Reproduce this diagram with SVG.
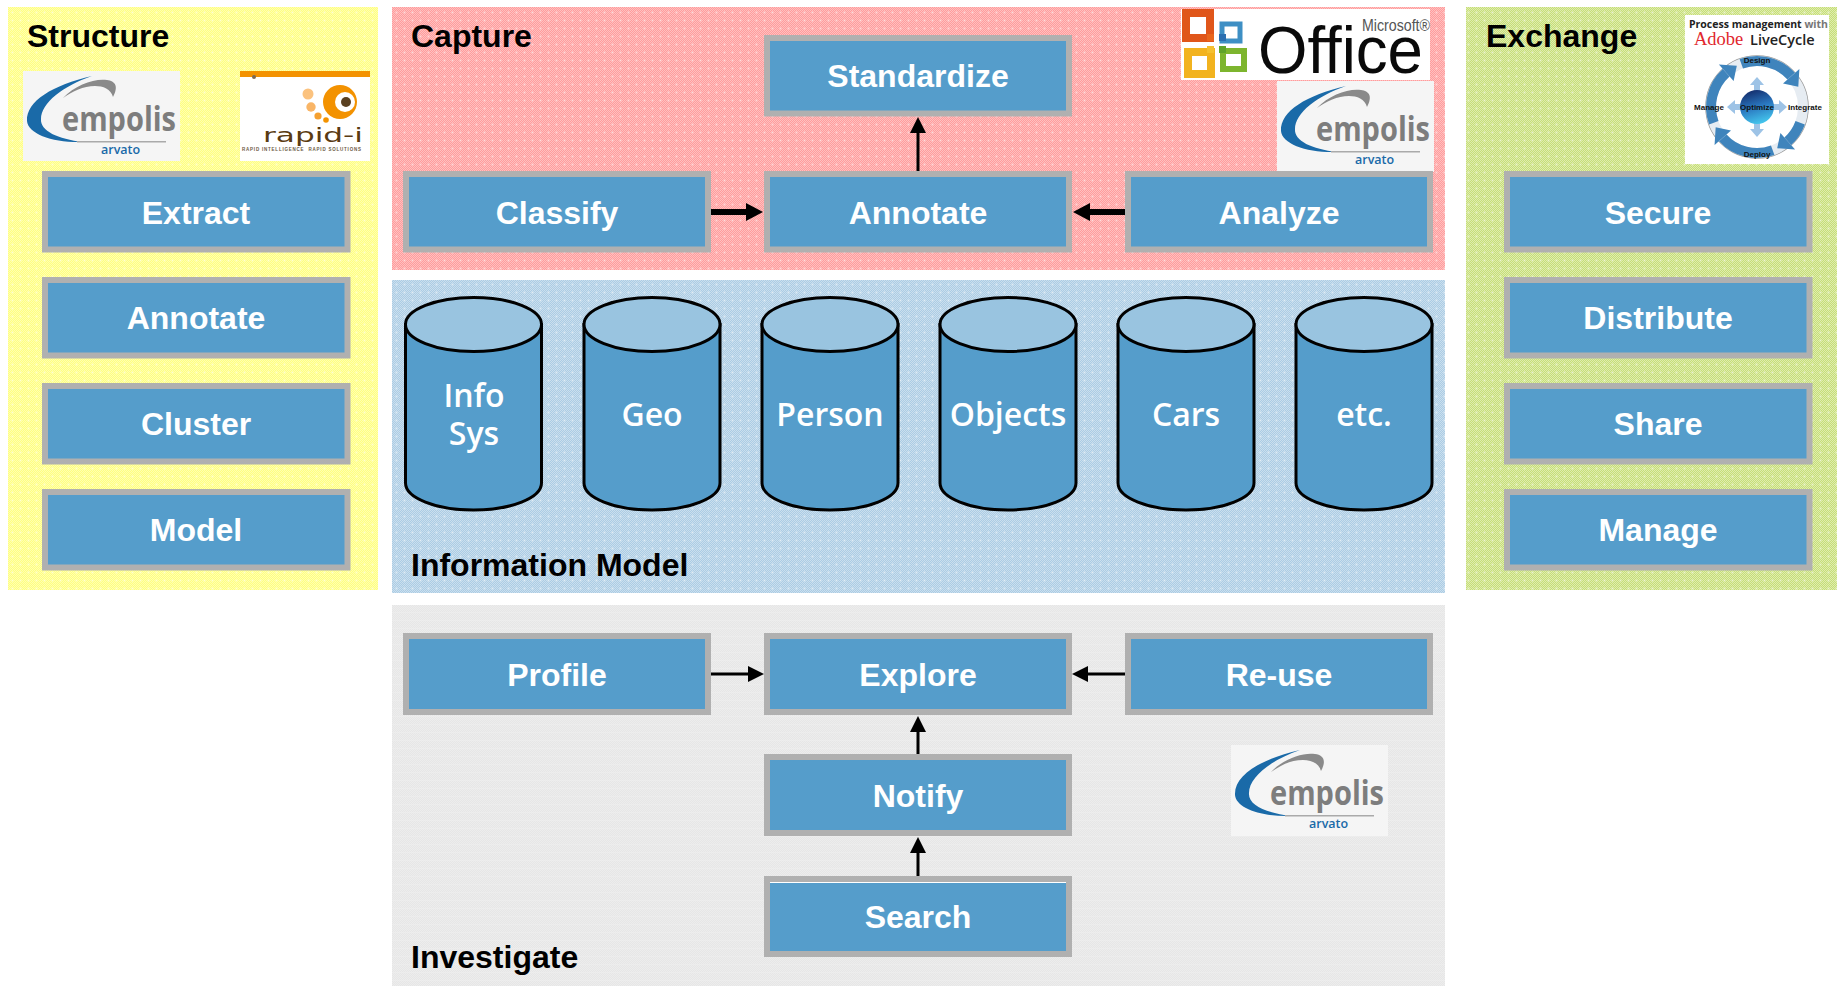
<svg xmlns="http://www.w3.org/2000/svg" width="1843" height="986" viewBox="0 0 1843 986">
<style>
.box{fill:#559DCB;stroke:#B0B0B0;stroke-width:6}
.lbl{font:bold 32px "Liberation Sans",Arial,sans-serif;fill:#fff;text-anchor:middle}
.ttl{font:bold 32px "Liberation Sans",Arial,sans-serif;fill:#000}
.cyl{fill:#559DCB;stroke:#000;stroke-width:3}
.cap{fill:#99C4E0;stroke:#000;stroke-width:3}
.clbl{font:600 32px "Open Sans",sans-serif;fill:#fff;text-anchor:middle}
.thin{stroke:#000;stroke-width:3;fill:none}
.thick{stroke:#000;stroke-width:6;fill:none}
.emp{font:700 34px "Open Sans",sans-serif;fill:#7d7d7d}
.arv{font:600 12.500px "Open Sans",sans-serif;fill:#1a6aa8}
.lc{font:bold 8px "Liberation Sans",Arial,sans-serif;fill:#111;text-anchor:middle}
.band{fill:none;stroke:#3F84BC;stroke-width:10}
</style>
<defs>
<pattern id="cY" width="2" height="2" patternUnits="userSpaceOnUse"><rect width="2" height="2" fill="#FFFF80"/><rect width="1" height="1" fill="#FFFFB0"/><rect x="1" y="1" width="1" height="1" fill="#FFFFB0"/></pattern>
<pattern id="cR" width="2" height="2" patternUnits="userSpaceOnUse"><rect width="2" height="2" fill="#FF9C9C"/><rect width="1" height="1" fill="#FFC0C0"/><rect x="1" y="1" width="1" height="1" fill="#FFC0C0"/></pattern>
<pattern id="cB" width="2" height="2" patternUnits="userSpaceOnUse"><rect width="2" height="2" fill="#ABCCE4"/><rect width="1" height="1" fill="#CBDFEE"/><rect x="1" y="1" width="1" height="1" fill="#CBDFEE"/></pattern>
<pattern id="cG" width="2" height="2" patternUnits="userSpaceOnUse"><rect width="2" height="2" fill="#C6DE78"/><rect width="1" height="1" fill="#DFEDAE"/><rect x="1" y="1" width="1" height="1" fill="#DFEDAE"/></pattern>
<pattern id="cK" width="2" height="2" patternUnits="userSpaceOnUse"><rect width="2" height="2" fill="#E6E6E6"/><rect width="1" height="1" fill="#EDEDED"/><rect x="1" y="1" width="1" height="1" fill="#EDEDED"/></pattern>
<pattern id="pY" width="8" height="8" patternUnits="userSpaceOnUse"><rect width="8" height="8" fill="url(#cY)"/><path d="M3 4.500h3M4.500 3v3" stroke="#fff" stroke-opacity=".25" fill="none"/></pattern>
<pattern id="pR" width="8" height="8" patternUnits="userSpaceOnUse"><rect width="8" height="8" fill="url(#cR)"/><path d="M3 4.500h3M4.500 3v3" stroke="#fff" stroke-opacity=".25" fill="none"/></pattern>
<pattern id="pB" width="8" height="8" patternUnits="userSpaceOnUse"><rect width="8" height="8" fill="url(#cB)"/><path d="M3 4.500h3M4.500 3v3" stroke="#fff" stroke-opacity=".25" fill="none"/></pattern>
<pattern id="pG" width="8" height="8" patternUnits="userSpaceOnUse"><rect width="8" height="8" fill="url(#cG)"/><path d="M3 4.500h3M4.500 3v3" stroke="#fff" stroke-opacity=".25" fill="none"/></pattern>
<pattern id="pK" width="8" height="8" patternUnits="userSpaceOnUse"><rect width="8" height="8" fill="url(#cK)"/><path d="M0 4.500h8" stroke="#f0f0f0" stroke-opacity=".5" fill="none"/></pattern>
<linearGradient id="ball" x1="0.3" y1="0" x2="0.6" y2="1"><stop offset="0" stop-color="#142C6B"/><stop offset="0.5" stop-color="#2A78C0"/><stop offset="1" stop-color="#45C8EE"/></linearGradient>
<marker id="hT" markerUnits="userSpaceOnUse" markerWidth="18" markerHeight="20" refX="0" refY="10" orient="auto"><path d="M0 1L17 10L0 19Z" fill="#000"/></marker>
<marker id="h" markerUnits="userSpaceOnUse" markerWidth="16" markerHeight="18" refX="0" refY="8.500" orient="auto"><path d="M0 0.500L16 8.500L0 16.500Z" fill="#000"/></marker>
<path id="head" d="M1783 83.600L1799.400 68.900L1798.300 86.800Z" fill="#3F84BC"/>
<path id="sArrow" d="M1757 77l7 8h-4v6h-6v-6h-4z" fill="#9DC3E6"/>
</defs>

<g id="panels">
<rect id="panel-structure" x="8" y="7" width="370" height="583" fill="url(#pY)"/>
<rect id="panel-capture" x="392" y="7" width="1053" height="263" fill="url(#pR)"/>
<rect id="panel-information-model" x="392" y="280" width="1053" height="313" fill="url(#pB)"/>
<rect id="panel-investigate" x="392" y="605" width="1053" height="381" fill="url(#pK)"/>
<rect id="panel-exchange" x="1466" y="7" width="371" height="583" fill="url(#pG)"/>
<text class="ttl" x="27" y="47">Structure</text>
<text class="ttl" x="411" y="47">Capture</text>
<text class="ttl" x="1486" y="47">Exchange</text>
<text class="ttl" x="411" y="576">Information Model</text>
<text class="ttl" x="411" y="968">Investigate</text>
</g>

<g id="logo-empolis-1" transform="translate(23 71)">
<rect width="157" height="90" fill="#F5F5F5"/>
<path d="M69 5C30 14 3 30 4 50C5 63 30 72 60 71C35 68 17 60 18 48C18 32 40 15 69 5Z" fill="#1A6AA8"/>
<path d="M40 27C52 14 72 7 84 9C92 10 96 15 90 26C88 18 80 15 72 15C60 15 50 20 40 27Z" fill="#8A8A8A"/>
<text class="emp" x="39" y="60" textLength="114" lengthAdjust="spacingAndGlyphs">empolis</text>
<rect x="54" y="70" width="89" height="1.500" fill="#aaa"/>
<text class="arv" x="78" y="83">arvato</text>
</g>
<g id="logo-empolis-2" transform="translate(1277 81)">
<rect width="157" height="91" fill="#F5F5F5"/>
<path d="M69 5C30 14 3 30 4 50C5 63 30 72 60 71C35 68 17 60 18 48C18 32 40 15 69 5Z" fill="#1A6AA8"/>
<path d="M40 27C52 14 72 7 84 9C92 10 96 15 90 26C88 18 80 15 72 15C60 15 50 20 40 27Z" fill="#8A8A8A"/>
<text class="emp" x="39" y="60" textLength="114" lengthAdjust="spacingAndGlyphs">empolis</text>
<rect x="54" y="70" width="89" height="1.500" fill="#aaa"/>
<text class="arv" x="78" y="83">arvato</text>
</g>
<g id="logo-empolis-3" transform="translate(1231 745)">
<rect width="157" height="91" fill="#F5F5F5"/>
<path d="M69 5C30 14 3 30 4 50C5 63 30 72 60 71C35 68 17 60 18 48C18 32 40 15 69 5Z" fill="#1A6AA8"/>
<path d="M40 27C52 14 72 7 84 9C92 10 96 15 90 26C88 18 80 15 72 15C60 15 50 20 40 27Z" fill="#8A8A8A"/>
<text class="emp" x="39" y="60" textLength="114" lengthAdjust="spacingAndGlyphs">empolis</text>
<rect x="54" y="70" width="89" height="1.500" fill="#aaa"/>
<text class="arv" x="78" y="83">arvato</text>
</g>

<g id="logo-rapid-i">
<rect x="240" y="71" width="130" height="90" fill="#fff"/>
<rect x="240" y="71" width="130" height="6" fill="#F39200"/>
<circle cx="254" cy="77" r="2" fill="#7a6a55"/>
<circle cx="340" cy="102" r="17" fill="#F39200"/>
<circle cx="345" cy="102" r="10" fill="#fff"/>
<circle cx="346" cy="102" r="5" fill="#5a4020"/>
<circle cx="308" cy="94" r="5.500" fill="#FBC27E"/>
<circle cx="311" cy="107" r="4.700" fill="#F9B566"/>
<circle cx="318" cy="116" r="3.600" fill="#F5A030"/>
<circle cx="326" cy="120" r="2.800" fill="#F39200"/>
<text x="263" y="142" font-family="DejaVu Sans,sans-serif" font-size="19" fill="#5a3b12" textLength="100" lengthAdjust="spacingAndGlyphs">rapid-i</text>
<text x="242" y="151" font-family="Liberation Sans,sans-serif" font-weight="bold" font-size="4.500" fill="#6b5a45" textLength="119" xml:space="preserve">RAPID INTELLIGENCE  RAPID SOLUTIONS</text>
</g>

<g id="logo-office">
<rect x="1181" y="9" width="249" height="71" fill="#fff"/>
<rect x="1186" y="13" width="24" height="25" fill="none" stroke="#E0561A" stroke-width="8"/>
<rect x="1222" y="24" width="18" height="17" fill="none" stroke="#3E8FC4" stroke-width="5"/>
<rect x="1188" y="52" width="23" height="22" fill="none" stroke="#F2B31F" stroke-width="8"/>
<rect x="1223" y="51" width="21" height="18" fill="none" stroke="#7DB52E" stroke-width="6"/>
<rect x="1207" y="34" width="7" height="7" fill="#E9661C"/>
<rect x="1219" y="34" width="7" height="7" fill="#2B6FB0"/>
<rect x="1207" y="46" width="7" height="7" fill="#F4C030"/>
<rect x="1219" y="46" width="7" height="7" fill="#5FA32A"/>
<text font-family="Liberation Sans,sans-serif"><tspan x="1258" y="73" font-size="66" fill="#0a0a0a" textLength="165" lengthAdjust="spacingAndGlyphs">Office</tspan><tspan x="1362" y="31" font-size="16" fill="#555" textLength="68" lengthAdjust="spacingAndGlyphs">Microsoft®</tspan></text>
</g>

<g id="logo-livecycle">
<rect x="1685" y="15" width="144" height="149" fill="#fff"/>
<text font-family="Open Sans,sans-serif" fill="#222"><tspan x="1689" y="28" font-weight="700" font-size="10.500">Process management <tspan fill="#777">with</tspan></tspan><tspan x="1694" y="45" font-family="Liberation Serif,serif" font-size="18.500" fill="#E1272E">Adobe</tspan><tspan x="1750" y="45" font-weight="600" font-size="14.500">LiveCycle</tspan></text>
<circle cx="1757" cy="107" r="51" fill="none" stroke="#9a9a9a" stroke-width="1.500"/>
<circle cx="1757" cy="107" r="46" fill="none" stroke="#e6ecf2" stroke-width="10"/>
<path class="band" d="M1741.300 63.800A46 46 0 0 1 1791.200 76.200"/>
<path class="band" d="M1772.700 63.800A46 46 0 0 1 1791.200 76.200" transform="rotate(90 1757 107)"/>
<path class="band" d="M1741.300 63.800A46 46 0 0 1 1791.200 76.200" transform="rotate(180 1757 107)"/>
<path class="band" d="M1741.300 63.800A46 46 0 0 1 1791.200 76.200" transform="rotate(270 1757 107)"/>
<use href="#head"/>
<use href="#head" transform="rotate(90 1757 107)"/>
<use href="#head" transform="rotate(180 1757 107)"/>
<use href="#head" transform="rotate(270 1757 107)"/>
<use href="#sArrow"/>
<use href="#sArrow" transform="rotate(90 1757 107)"/>
<use href="#sArrow" transform="rotate(180 1757 107)"/>
<use href="#sArrow" transform="rotate(270 1757 107)"/>
<circle cx="1757" cy="107" r="17" fill="url(#ball)"/>
<text class="lc" x="1757" y="63">Design</text>
<text class="lc" x="1709" y="110">Manage</text>
<text class="lc" x="1757" y="110">Optimize</text>
<text class="lc" x="1805" y="110">Integrate</text>
<text class="lc" x="1757" y="157">Deploy</text>
</g>

<g id="node-extract"><rect class="box" x="45" y="174" width="302.500" height="75.500"/><text class="lbl" x="196" y="224">Extract</text></g>
<g id="node-annotate-structure"><rect class="box" x="45" y="280" width="302.500" height="75.500"/><text class="lbl" x="196" y="329">Annotate</text></g>
<g id="node-cluster"><rect class="box" x="45" y="386" width="302.500" height="75.500"/><text class="lbl" x="196" y="435">Cluster</text></g>
<g id="node-model"><rect class="box" x="45" y="492" width="302.500" height="75.500"/><text class="lbl" x="196" y="541">Model</text></g>

<g id="node-standardize"><rect class="box" x="767" y="38" width="302" height="75.500"/><text class="lbl" x="918" y="87">Standardize</text></g>
<g id="node-classify"><rect class="box" x="406" y="174" width="302" height="75.500"/><text class="lbl" x="557" y="224">Classify</text></g>
<g id="node-annotate"><rect class="box" x="767" y="174" width="302" height="75.500"/><text class="lbl" x="918" y="224">Annotate</text></g>
<g id="node-analyze"><rect class="box" x="1128" y="174" width="302" height="75.500"/><text class="lbl" x="1279" y="224">Analyze</text></g>

<g id="node-secure"><rect class="box" x="1507" y="174" width="302.500" height="75.500"/><text class="lbl" x="1658" y="224">Secure</text></g>
<g id="node-distribute"><rect class="box" x="1507" y="280" width="302.500" height="75.500"/><text class="lbl" x="1658" y="329">Distribute</text></g>
<g id="node-share"><rect class="box" x="1507" y="386" width="302.500" height="75.500"/><text class="lbl" x="1658" y="435">Share</text></g>
<g id="node-manage"><rect class="box" x="1507" y="492" width="302.500" height="75.500"/><text class="lbl" x="1658" y="541">Manage</text></g>

<g id="node-info-sys"><path class="cyl" d="M405.500 324.500V483A68 27 0 0 0 541.500 483V324.500Z"/><ellipse class="cap" cx="473.500" cy="324.500" rx="68" ry="27"/><text class="clbl"><tspan x="474" y="407">Info</tspan><tspan x="474" y="445">Sys</tspan></text></g>
<g id="node-geo"><path class="cyl" d="M584 324.500V483A68 27 0 0 0 720 483V324.500Z"/><ellipse class="cap" cx="652" cy="324.500" rx="68" ry="27"/><text class="clbl" x="652" y="426">Geo</text></g>
<g id="node-person"><path class="cyl" d="M762 324.500V483A68 27 0 0 0 898 483V324.500Z"/><ellipse class="cap" cx="830" cy="324.500" rx="68" ry="27"/><text class="clbl" x="830" y="426">Person</text></g>
<g id="node-objects"><path class="cyl" d="M940 324.500V483A68 27 0 0 0 1076 483V324.500Z"/><ellipse class="cap" cx="1008" cy="324.500" rx="68" ry="27"/><text class="clbl" x="1008" y="426">Objects</text></g>
<g id="node-cars"><path class="cyl" d="M1118 324.500V483A68 27 0 0 0 1254 483V324.500Z"/><ellipse class="cap" cx="1186" cy="324.500" rx="68" ry="27"/><text class="clbl" x="1186" y="426">Cars</text></g>
<g id="node-etc"><path class="cyl" d="M1296 324.500V483A68 27 0 0 0 1432 483V324.500Z"/><ellipse class="cap" cx="1364" cy="324.500" rx="68" ry="27"/><text class="clbl" x="1364" y="426">etc.</text></g>

<g id="node-profile"><rect class="box" x="406" y="636" width="302" height="76"/><text class="lbl" x="557" y="686">Profile</text></g>
<g id="node-explore"><rect class="box" x="767" y="636" width="302" height="76"/><text class="lbl" x="918" y="686">Explore</text></g>
<g id="node-reuse"><rect class="box" x="1128" y="636" width="302" height="76"/><text class="lbl" x="1279" y="686">Re-use</text></g>
<g id="node-notify"><rect class="box" x="767" y="757" width="302" height="76"/><text class="lbl" x="918" y="807">Notify</text></g>
<g id="node-search"><rect class="box" x="767" y="879" width="302" height="75"/><rect x="770" y="882" width="296" height="1" fill="#fff"/><text class="lbl" x="918" y="928">Search</text></g>

<g id="connectors">
<line class="thick" x1="711" y1="212" x2="746" y2="212" marker-end="url(#hT)"/>
<line class="thick" x1="1125" y1="212" x2="1090" y2="212" marker-end="url(#hT)"/>
<line class="thin" x1="918" y1="171" x2="918" y2="133" marker-end="url(#h)"/>
<line class="thin" x1="711" y1="674" x2="748" y2="674" marker-end="url(#h)"/>
<line class="thin" x1="1125" y1="674" x2="1088" y2="674" marker-end="url(#h)"/>
<line class="thin" x1="918" y1="754" x2="918" y2="732" marker-end="url(#h)"/>
<line class="thin" x1="918" y1="876" x2="918" y2="853" marker-end="url(#h)"/>
</g>
</svg>
